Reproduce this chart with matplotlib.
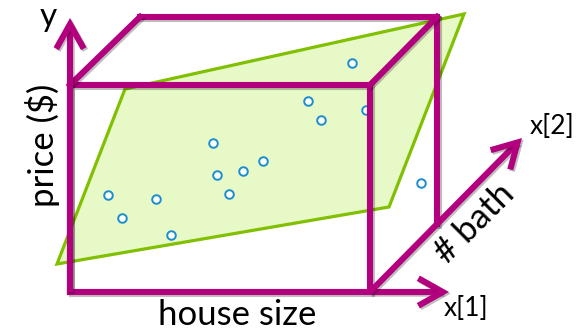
"""
Diagram: regression plane in a (house size, # bath, price) box.
"""
import matplotlib
matplotlib.use("Agg")
import matplotlib.pyplot as plt
import matplotlib.patheffects as pe
from matplotlib.patches import Polygon, FancyArrowPatch

MAGENTA = "#b3007e"
GREEN_EDGE = "#80c000"
GREEN_FILL = "#e8f9c8"
POINT_BLUE = "#1b8ed2"

# observations (drawing coords: x right, y down)
obs_x = [108, 122, 156, 171, 213, 217, 229, 243, 263, 308, 321, 352, 366, 421]
obs_y = [195, 218, 199, 235, 143, 175, 194, 171, 161, 101, 120, 63, 110, 183]

# fitted plane corners
plane_x = [57, 125, 464, 389]
plane_y = [264, 89, 14, 207]

# box: front face and back face
front_x = [70, 370, 370, 70, 70]
front_y = [292, 292, 85, 85, 292]
back_x = [140, 437, 437]
back_y = [17, 17, 224]

plt.rcParams["font.family"] = ["Lato", "DejaVu Sans"]

fig = plt.figure(figsize=(5.84, 3.35), dpi=100)
ax = fig.add_axes([0, 0, 1, 1])
ax.set_xlim(0, 584)
ax.set_ylim(335, 0)
ax.axis("off")

shadow = [pe.SimpleLineShadow(offset=(1.2, -1.2), alpha=0.25), pe.Normal()]

ax.add_patch(Polygon(list(zip(plane_x, plane_y)), closed=True,
                     facecolor=GREEN_FILL, edgecolor=GREEN_EDGE, lw=2.3,
                     joinstyle="miter", zorder=1))

ax.scatter(obs_x, obs_y, s=38, facecolor="white", edgecolor=POINT_BLUE,
           linewidth=1.4, zorder=2)

line_kw = dict(color=MAGENTA, lw=4.4, solid_joinstyle="miter",
               solid_capstyle="projecting", zorder=3, path_effects=shadow)
ax.plot(front_x, front_y, **line_kw)
ax.plot(back_x, back_y, **line_kw)
ax.plot([front_x[3], back_x[0]], [front_y[3], back_y[0]], **line_kw)
ax.plot([front_x[2], back_x[1]], [front_y[2], back_y[1]], **line_kw)

arrow_kw = dict(arrowstyle="->,head_length=0.8,head_width=0.45",
                mutation_scale=22, color=MAGENTA, lw=4.4,
                shrinkA=0, shrinkB=0, zorder=3, joinstyle="miter",
                capstyle="butt", path_effects=shadow)
ax.add_patch(FancyArrowPatch((70, 292), (70, 18), **arrow_kw))
ax.add_patch(FancyArrowPatch((370, 292), (449, 292), **arrow_kw))
ax.add_patch(FancyArrowPatch((370, 292), (522, 138), **arrow_kw))

ax.text(48, 17, "y", fontsize=24, ha="center", va="center")
ax.text(466, 309, "x[1]", fontsize=19, ha="center", va="center")
ax.text(552, 126, "x[2]", fontsize=19, ha="center", va="center")
ax.text(474, 223, "# bath", fontsize=25, ha="center", va="center",
        rotation=45, rotation_mode="anchor")
ax.text(237, 315, "house size", fontsize=25, ha="center", va="center")
ax.text(42, 145, "price ($)", fontsize=25, ha="center", va="center",
        rotation=90)

fig.savefig("out.png", dpi=100)
